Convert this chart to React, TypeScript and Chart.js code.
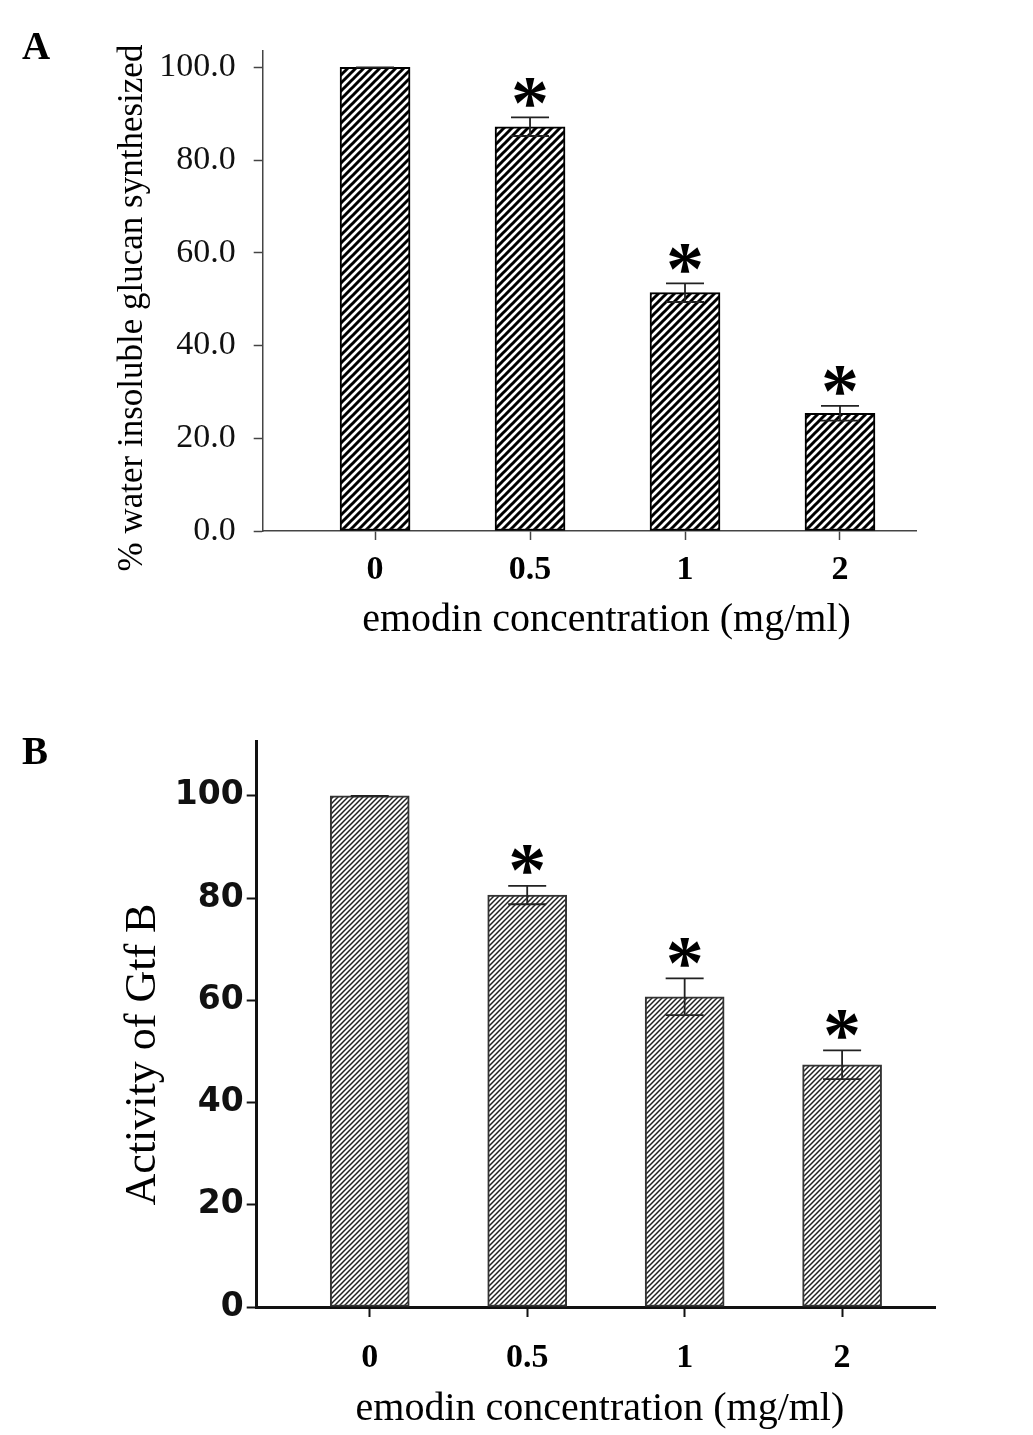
import { useEffect, useRef } from 'react';
import { Chart, registerables } from 'chart.js';

Chart.register(...registerables);

// emodin concentration (mg/ml), shared by both panels
const concentrations = ['0', '0.5', '1', '2'];

// panel A: % water insoluble glucan synthesized
const glucanValues = [100, 87.2, 51.4, 25.4];
const glucanErrors = [0, 2.0, 2.0, 1.6];
const glucanStars = [false, true, true, true];
const glucanTicks = [0, 20, 40, 60, 80, 100];

// panel B: activity of Gtf B
const gtfbValues = [100, 80.6, 60.7, 47.4];
const gtfbErrors = [0, 1.8, 3.6, 2.8];
const gtfbStars = [false, true, true, true];
const gtfbTicks = [0, 20, 40, 60, 80, 100];

const PAGE_W = 1033;
const SERIF = "'Liberation Serif', 'Times New Roman', serif";

type Look = {
  hatchPeriod: number;
  hatchWidth: number;
  hatchColor: string;
  barWidth: number;
  barBorder: string;
  barBorderWidth: number;
  axisColor: string;
  axisWidth: number;
  tickLength: number;
  tickWidth: number;
  yTickFont: { family: string; size: number; weight: string };
  yTickPadding: number;
  yTickDecimals: number;
  xTickSize: number;
  xTickPadding: number;
  errorColor: string;
  errorWidth: number;
  capHalf: number;
  starSize: number;
  starGap: number;
};

type PanelProps = {
  letter: string;
  letterBaseline: number;
  height: number;
  values: number[];
  errors: number[];
  stars: boolean[];
  yTicks: number[];
  yMax: number;
  xMin: number;
  xMax: number;
  area: { left: number; top: number; right: number; bottom: number };
  yTitle: string;
  yTitleSize: number;
  yTitleX: number;
  yTitleY: number;
  xTitle: string;
  xTitleBaseline: number;
  xTitleShift: number;
  look: Look;
};

function hatch(period: number, width: number, color: string) {
  const tile = document.createElement('canvas');
  tile.width = period;
  tile.height = period;
  const c = tile.getContext('2d')!;
  c.fillStyle = '#fff';
  c.fillRect(0, 0, period, period);
  c.strokeStyle = color;
  c.lineWidth = width;
  c.beginPath();
  c.moveTo(-1, period + 1);
  c.lineTo(period + 1, -1);
  c.moveTo(-period / 2 - 1, period / 2 + 1);
  c.lineTo(period / 2 + 1, -period / 2 - 1);
  c.moveTo(period / 2 - 1, period * 1.5 + 1);
  c.lineTo(period * 1.5 + 1, period / 2 - 1);
  c.stroke();
  return c.createPattern(tile, 'repeat')!;
}

function BarPanel(p: PanelProps) {
  const canvasRef = useRef<HTMLCanvasElement>(null);

  useEffect(() => {
    const canvas = canvasRef.current;
    if (!canvas) return;
    const context = canvas.getContext('2d');
    if (!context) return;
    const s = p.look;
    const positions = concentrations.map((_, i) => i);

    const annotations = {
      id: 'annotations',
      afterDatasetsDraw(chart: Chart) {
        const { ctx } = chart;
        const x = chart.scales.x;
        const y = chart.scales.y;
        ctx.save();
        ctx.strokeStyle = s.errorColor;
        ctx.lineWidth = s.errorWidth;
        p.values.forEach((v, i) => {
          const cx = x.getPixelForValue(i);
          const hi = y.getPixelForValue(v + p.errors[i]);
          const lo = y.getPixelForValue(v - p.errors[i]);
          ctx.beginPath();
          ctx.moveTo(cx, hi);
          ctx.lineTo(cx, lo);
          ctx.moveTo(cx - s.capHalf, hi);
          ctx.lineTo(cx + s.capHalf, hi);
          ctx.moveTo(cx - s.capHalf, lo);
          ctx.lineTo(cx + s.capHalf, lo);
          ctx.stroke();
          if (p.stars[i]) {
            ctx.fillStyle = '#000';
            ctx.font = `bold ${s.starSize}px ${SERIF}`;
            ctx.textAlign = 'center';
            ctx.textBaseline = 'alphabetic';
            ctx.fillText('*', cx, hi - s.starGap + s.starSize * 0.48);
          }
        });

        ctx.fillStyle = '#000';
        ctx.textBaseline = 'alphabetic';

        // panel letter
        ctx.font = `bold 39px ${SERIF}`;
        ctx.textAlign = 'left';
        ctx.fillText(p.letter, 22, p.letterBaseline);

        // x title, centred over the bars
        const mid = (x.getPixelForValue(0) + x.getPixelForValue(positions.length - 1)) / 2;
        ctx.font = `40px ${SERIF}`;
        ctx.textAlign = 'center';
        ctx.fillText(p.xTitle, mid + p.xTitleShift, p.xTitleBaseline);

        // y title
        ctx.save();
        ctx.translate(p.yTitleX, p.yTitleY);
        ctx.rotate(-Math.PI / 2);
        ctx.font = `${p.yTitleSize}px ${SERIF}`;
        ctx.fillText(p.yTitle, 0, 0);
        ctx.restore();

        ctx.restore();
      }
    };

    const chart = new Chart(context, {
      type: 'bar',
      data: {
        datasets: [{
          data: positions.map((x, i) => ({ x, y: p.values[i] })),
          backgroundColor: hatch(s.hatchPeriod, s.hatchWidth, s.hatchColor),
          borderColor: s.barBorder,
          borderWidth: s.barBorderWidth,
          borderSkipped: false,
          barThickness: s.barWidth
        }]
      },
      options: {
        animation: false,
        responsive: false,
        devicePixelRatio: 1,
        events: [],
        layout: {
          padding: { left: 0, top: p.area.top, right: PAGE_W - p.area.right, bottom: 0 }
        },
        plugins: {
          legend: { display: false },
          tooltip: { enabled: false }
        },
        scales: {
          x: {
            type: 'linear',
            min: p.xMin,
            max: p.xMax,
            offset: false,
            afterBuildTicks: (scale: any) => {
              scale.ticks = positions.map((v) => ({ value: v }));
            },
            afterFit: (scale: any) => {
              scale.height = p.height - p.area.bottom;
            },
            grid: {
              offset: false,
              drawOnChartArea: false,
              drawTicks: true,
              tickLength: s.tickLength,
              tickWidth: s.tickWidth,
              tickColor: s.axisColor
            },
            border: { color: s.axisColor, width: s.axisWidth },
            ticks: {
              autoSkip: false,
              maxRotation: 0,
              padding: s.xTickPadding,
              color: '#000',
              font: { family: SERIF, size: s.xTickSize, weight: 'bold' },
              callback: (v: any) => concentrations[Math.round(Number(v))] ?? ''
            }
          },
          y: {
            type: 'linear',
            min: 0,
            max: p.yMax,
            afterBuildTicks: (scale: any) => {
              scale.ticks = p.yTicks.map((v) => ({ value: v }));
            },
            afterFit: (scale: any) => {
              scale.width = p.area.left;
            },
            grid: {
              drawOnChartArea: false,
              drawTicks: true,
              tickLength: s.tickLength,
              tickWidth: s.tickWidth,
              tickColor: s.axisColor
            },
            border: { color: s.axisColor, width: s.axisWidth },
            ticks: {
              padding: s.yTickPadding,
              color: '#111',
              font: s.yTickFont as any,
              callback: (v: any) => Number(v).toFixed(s.yTickDecimals)
            }
          }
        }
      },
      plugins: [annotations]
    });

    return () => {
      chart.destroy();
    };
  }, [p]);

  return (
    <canvas
      ref={canvasRef}
      width={PAGE_W}
      height={p.height}
      style={{ display: 'block', width: PAGE_W, height: p.height }}
    />
  );
}

const lookA: Look = {
  hatchPeriod: 8,
  hatchWidth: 3,
  hatchColor: '#000',
  barWidth: 70,
  barBorder: '#000',
  barBorderWidth: 2,
  axisColor: '#444',
  axisWidth: 1.5,
  tickLength: 9,
  tickWidth: 1.5,
  yTickFont: { family: SERIF, size: 34, weight: 'normal' },
  yTickPadding: 18,
  yTickDecimals: 1,
  xTickSize: 34,
  xTickPadding: 10,
  errorColor: '#222',
  errorWidth: 1.8,
  capHalf: 19,
  starSize: 76,
  starGap: 26
};

const lookB: Look = {
  hatchPeriod: 5,
  hatchWidth: 1.5,
  hatchColor: '#222',
  barWidth: 79,
  barBorder: '#333',
  barBorderWidth: 2,
  axisColor: '#111',
  axisWidth: 3,
  tickLength: 10,
  tickWidth: 2,
  yTickFont: { family: "'DejaVu Sans', sans-serif", size: 33, weight: 'bold' },
  yTickPadding: 3,
  yTickDecimals: 0,
  xTickSize: 34,
  xTickPadding: 21,
  errorColor: '#222',
  errorWidth: 1.8,
  capHalf: 19,
  starSize: 76,
  starGap: 27
};

const panelA: PanelProps = {
  letter: 'A',
  letterBaseline: 59,
  height: 700,
  values: glucanValues,
  errors: glucanErrors,
  stars: glucanStars,
  yTicks: glucanTicks,
  yMax: 103.6,
  xMin: -0.725,
  xMax: 3.495,
  area: { left: 262.7, top: 50.7, right: 916.7, bottom: 531 },
  yTitle: '% water insoluble glucan synthesized',
  yTitleSize: 35,
  yTitleX: 142,
  yTitleY: 308,
  xTitle: 'emodin concentration (mg/ml)',
  xTitleBaseline: 631,
  xTitleShift: -1,
  look: lookA
};

const panelB: PanelProps = {
  letter: 'B',
  letterBaseline: 64,
  height: 735,
  values: gtfbValues,
  errors: gtfbErrors,
  stars: gtfbStars,
  yTicks: gtfbTicks,
  yMax: 110.6,
  xMin: -0.718,
  xMax: 3.59,
  area: { left: 256.7, top: 41.7, right: 935, bottom: 607 },
  yTitle: 'Activity of Gtf B',
  yTitleSize: 44,
  yTitleX: 155,
  yTitleY: 354.5,
  xTitle: 'emodin concentration (mg/ml)',
  xTitleBaseline: 720,
  xTitleShift: -6,
  look: lookB
};

export default function App() {
  return (
    <div style={{ position: 'absolute', left: 0, top: 0, width: PAGE_W, height: 1435, background: '#fff' }}>
      <BarPanel {...panelA} />
      <BarPanel {...panelB} />
    </div>
  );
}
